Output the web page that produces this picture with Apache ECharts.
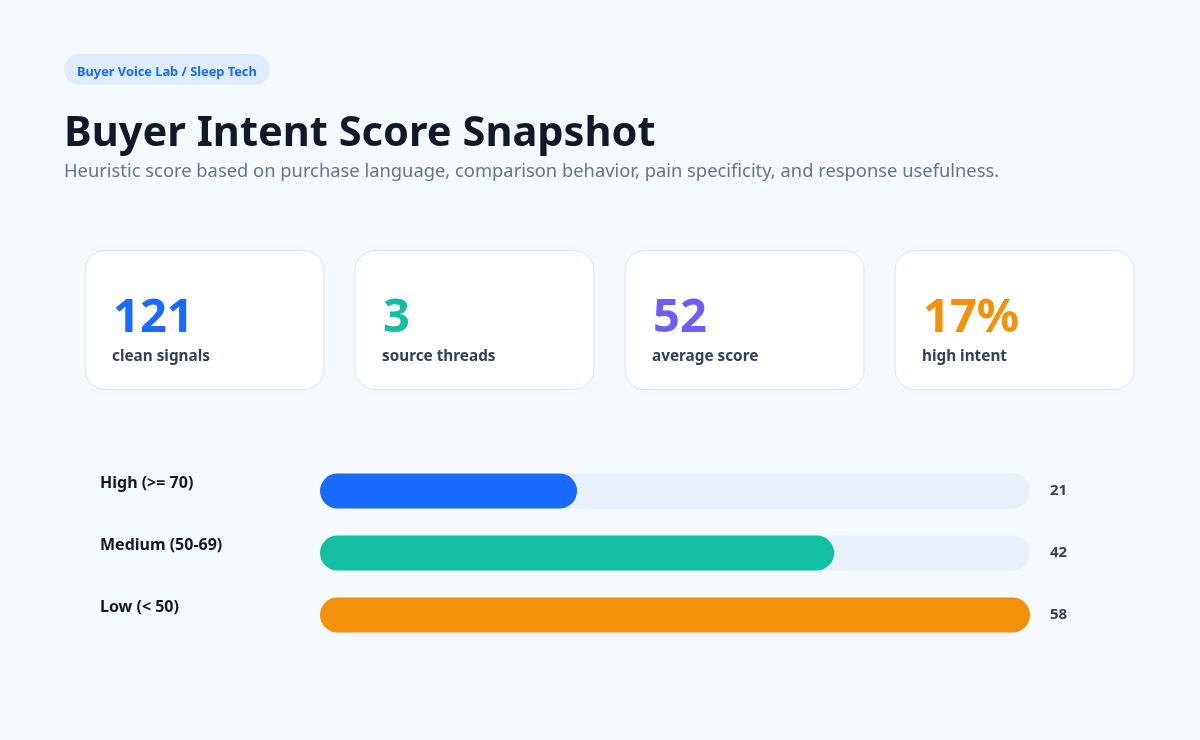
<!DOCTYPE html>
<html>
<head>
<meta charset="utf-8">
<title>Buyer Intent Score Snapshot</title>
<script src="https://cdn.jsdelivr.net/npm/echarts@6/dist/echarts.min.js"></script>
<style>
  html, body { margin: 0; padding: 0; background: #f5faff; }
  #chart { width: 1200px; height: 740px; }
</style>
</head>
<body>
<div id="chart"></div>
<script>
// score buckets
var categories = ['High (>= 70)', 'Medium (50-69)', 'Low (< 50)']
var counts = [21, 42, 58]
var barColors = ['#1a6aff', '#13bfa2', '#f59009']

// summary cards
var cardValues = ['121', '3', '52', '17%']
var cardLabels = ['clean signals', 'source threads', 'average score', 'high intent']
var cardColors = ['#1a6aff', '#13bfa2', '#6e5cf6', '#f59009']

var FONT = '"Segoe UI", "Noto Sans", sans-serif'
var chart = echarts.init(document.getElementById('chart'))

var graphics = [
  { type: 'rect', shape: { x: 64, y: 54, width: 206, height: 31, r: 15.5 }, style: { fill: '#dfecfe' } },
  { type: 'text', x: 77, y: 72, style: { text: 'Buyer Voice Lab / Sleep Tech', font: 'bold 12.8px ' + FONT, fill: '#1a6aff', verticalAlign: 'middle' } },
  { type: 'text', x: 64, y: 134, style: { text: 'Buyer Intent Score Snapshot', font: 'bold 41.6px ' + FONT, fill: '#111827', verticalAlign: 'middle' } },
  { type: 'text', x: 64, y: 172, style: { text: 'Heuristic score based on purchase language, comparison behavior, pain specificity, and response usefulness.', font: '18.35px ' + FONT, fill: '#64748b', verticalAlign: 'middle' } }
]

for (var i = 0; i < cardValues.length; i++) {
  var cx = 85 + i * 270
  graphics.push({ type: 'rect', shape: { x: cx, y: 250.5, width: 239, height: 139, r: 20 }, style: { fill: '#ffffff', stroke: '#d9e4f0', lineWidth: 1 } })
  graphics.push({ type: 'text', x: cx + 28, y: 319, style: { text: cardValues[i], font: 'bold 47px ' + FONT, fill: cardColors[i], verticalAlign: 'middle' } })
  graphics.push({ type: 'text', x: cx + 27, y: 357, style: { text: cardLabels[i], font: 'bold 15.3px ' + FONT, fill: '#334155', verticalAlign: 'middle' } })
}

var option = {
  backgroundColor: '#f5faff',
  animation: false,
  graphic: graphics,
  grid: { left: 320, right: 170, top: 460, height: 186 },
  xAxis: { type: 'value', min: 0, max: 58, show: false },
  yAxis: [
    {
      type: 'category',
      inverse: true,
      data: categories,
      axisLine: { show: false },
      axisTick: { show: false },
      axisLabel: { align: 'left', verticalAlign: 'bottom', margin: 220, color: '#111827', fontFamily: FONT, fontWeight: 'bold', fontSize: 16 }
    },
    {
      type: 'category',
      inverse: true,
      position: 'right',
      data: counts.map(String),
      axisLine: { show: false },
      axisTick: { show: false },
      axisLabel: { align: 'left', margin: 20, padding: [0, 0, 3, 0], color: '#334155', fontFamily: FONT, fontWeight: 'bold', fontSize: 15 }
    }
  ],
  series: [{
    type: 'bar',
    barWidth: 35,
    data: counts.map(function (v, k) { return { value: v, itemStyle: { color: barColors[k] } } }),
    itemStyle: { borderRadius: 17.5 },
    showBackground: true,
    backgroundStyle: { color: '#e9f0fa', borderRadius: 17.5 }
  }]
}

chart.setOption(option)
</script>
</body>
</html>
